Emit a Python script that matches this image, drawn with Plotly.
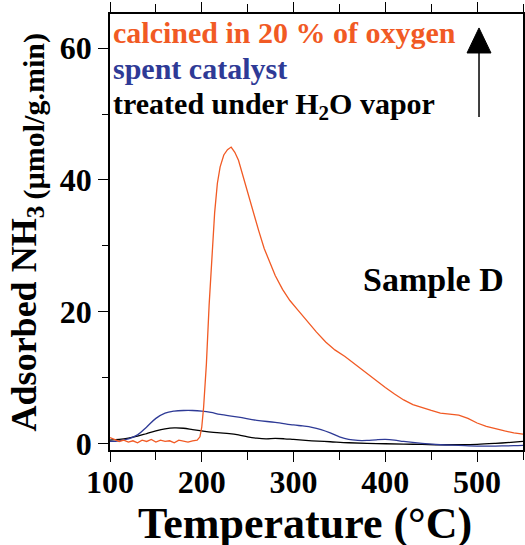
import plotly.graph_objects as go

# ---- data ----
t_calcined = [100, 105, 110, 115, 120, 125, 130, 135, 140, 145, 150, 155, 160, 165, 170, 175, 180, 185, 190, 195,
              198, 200, 202, 205, 208, 211, 214, 217, 220, 224, 228, 232, 236, 240, 245, 250, 256, 262, 268, 274,
              280, 288, 296, 305, 315, 325, 335, 345, 356, 367, 378, 390, 400, 410, 420, 430, 440, 450, 460, 470,
              480, 490, 500, 510, 520, 530, 540, 550]
v_calcined = [0.9, 0.6, 0.3, 0.5, 0.2, 0.4, 0.1, 0.5, 0.3, 0.6, 0.2, 0.5, 0.3, 0.4, 0.1, 0.5, 0.3, 0.2, 0.4, 0.5,
              1.0, 2.5, 5.5, 12.0, 21.0, 29.0, 35.0, 39.5, 42.0, 43.8, 44.6, 45.0, 44.2, 43.0, 40.5, 38.2, 35.0, 32.3, 29.6, 27.6,
              25.5, 23.4, 21.7, 20.2, 18.5, 16.9, 15.4, 14.2, 13.2, 12.0, 10.9, 9.6, 8.5, 7.5, 6.6, 5.9, 5.4, 5.0, 4.6, 4.4,
              4.3, 3.8, 3.1, 2.6, 2.2, 1.9, 1.6, 1.4]

t_spent = [100, 110, 120, 130, 140, 150, 160, 170, 180, 190, 200, 210, 220, 240, 260, 280, 300, 310, 320, 330,
           340, 350, 360, 370, 380, 390, 400, 410, 420, 440, 460, 480, 500, 520, 540, 550]
v_spent = [0.3, 0.4, 0.7, 1.3, 2.5, 3.8, 4.6, 4.9, 5.0, 5.0, 4.9, 4.7, 4.4, 4.0, 3.5, 3.2, 2.8, 2.65, 2.45, 2.1,
           1.6, 1.0, 0.6, 0.45, 0.45, 0.55, 0.6, 0.5, 0.3, 0.0, -0.2, -0.3, -0.4, -0.4, -0.35, -0.3]

t_water = [100, 110, 120, 130, 140, 150, 160, 170, 180, 190, 200, 210, 220, 230, 240, 250, 260, 270, 280, 290,
           300, 320, 340, 360, 380, 400, 420, 440, 460, 480, 500, 520, 540, 550]
v_water = [0.5, 0.6, 0.8, 1.1, 1.5, 1.9, 2.2, 2.35, 2.3, 2.1, 1.9, 1.7, 1.6, 1.5, 1.3, 1.0, 0.8, 0.7, 0.75, 0.7,
           0.6, 0.4, 0.25, 0.1, 0.0, -0.05, -0.1, -0.15, -0.2, -0.2, -0.15, 0.0, 0.2, 0.3]

x_ticks = [100, 200, 300, 400, 500]
y_ticks = [0, 20, 40, 60]

RED = "#F15A24"
BLUE = "#2E3A96"
FONT = "Liberation Serif"

fig = go.Figure()
fig.add_trace(go.Scatter(x=t_water, y=v_water, mode="lines", line=dict(color="black", width=1.3),
                         line_shape="spline", showlegend=False, hoverinfo="skip"))
fig.add_trace(go.Scatter(x=t_spent, y=v_spent, mode="lines", line=dict(color=BLUE, width=1.3),
                         line_shape="spline", showlegend=False, hoverinfo="skip"))
fig.add_trace(go.Scatter(x=t_calcined, y=v_calcined, mode="lines", line=dict(color=RED, width=1.3),
                         showlegend=False, hoverinfo="skip"))

axis_common = dict(showline=True, linecolor="black", linewidth=1.5, mirror="ticks",
                   ticks="outside", ticklen=10, tickwidth=1.3, tickcolor="black",
                   showgrid=False, zeroline=False, automargin=False,
                   tickfont=dict(family=FONT, size=32, color="black", weight="bold"))

fig.update_xaxes(range=[100, 550], tickvals=x_ticks, ticktext=[str(v) for v in x_ticks],
                 ticklabelstandoff=-7,
                 minor=dict(dtick=50, ticks="outside", ticklen=8, tickcolor="black", tickwidth=1.3),
                 **axis_common)
fig.update_yaxes(range=[-1, 65.2], tickvals=y_ticks, ticktext=[str(v) for v in y_ticks],
                 minor=dict(dtick=10, ticks="outside", ticklen=6, tickcolor="black", tickwidth=1.3),
                 **axis_common)

ann_font = dict(family=FONT, size=30, weight="bold")
annotations = [
    dict(text="calcined in 20 % of oxygen", x=0.0024, y=0.958, font=dict(color=RED, **ann_font)),
    dict(text="spent catalyst", x=0.0024, y=0.876, font=dict(color=BLUE, **ann_font)),
    dict(text="treated under H<sub>2</sub>O vapor", x=0.0024, y=0.79, font=dict(color="black", **ann_font)),
    dict(text="Sample D", x=0.608, y=0.392, font=dict(color="black", family=FONT, size=34, weight="bold")),
]
for a in annotations:
    fig.add_annotation(xref="paper", yref="paper", xanchor="left", yanchor="middle", showarrow=False, **a)

fig.add_annotation(text="Temperature (°C)", xref="paper", yref="paper", x=0.472, y=-0.168,
                   xanchor="center", yanchor="middle", showarrow=False,
                   font=dict(family=FONT, size=44, weight="bold", color="black"))
fig.add_annotation(text="Adsorbed NH<sub>3 <span style='font-size:30px'>(µmol/g.min)</span></sub>",
                   xref="paper", yref="paper", x=-0.2, y=0.5, textangle=-90,
                   xanchor="center", yanchor="middle", showarrow=False,
                   font=dict(family=FONT, size=36, weight="bold", color="black"))

# arrow (paper coordinates)
ax_x = 0.8935
fig.add_shape(type="line", xref="paper", yref="paper", x0=ax_x, x1=ax_x, y0=0.764, y1=0.92,
              line=dict(color="black", width=1.5))
fig.add_shape(type="path", xref="paper", yref="paper",
              path=f"M {ax_x - 0.029},0.9106 L {ax_x + 0.029},0.9106 L {ax_x},0.968 Z",
              fillcolor="black", line=dict(color="black", width=1))

fig.update_layout(width=525, height=545, margin=dict(l=110, r=2, t=14, b=95),
                  paper_bgcolor="white", plot_bgcolor="white", hovermode=False)

fig.write_html("out.html", config={"displayModeBar": False},
               post_script="document.body.style.margin='0';document.body.style.overflow='hidden';")
